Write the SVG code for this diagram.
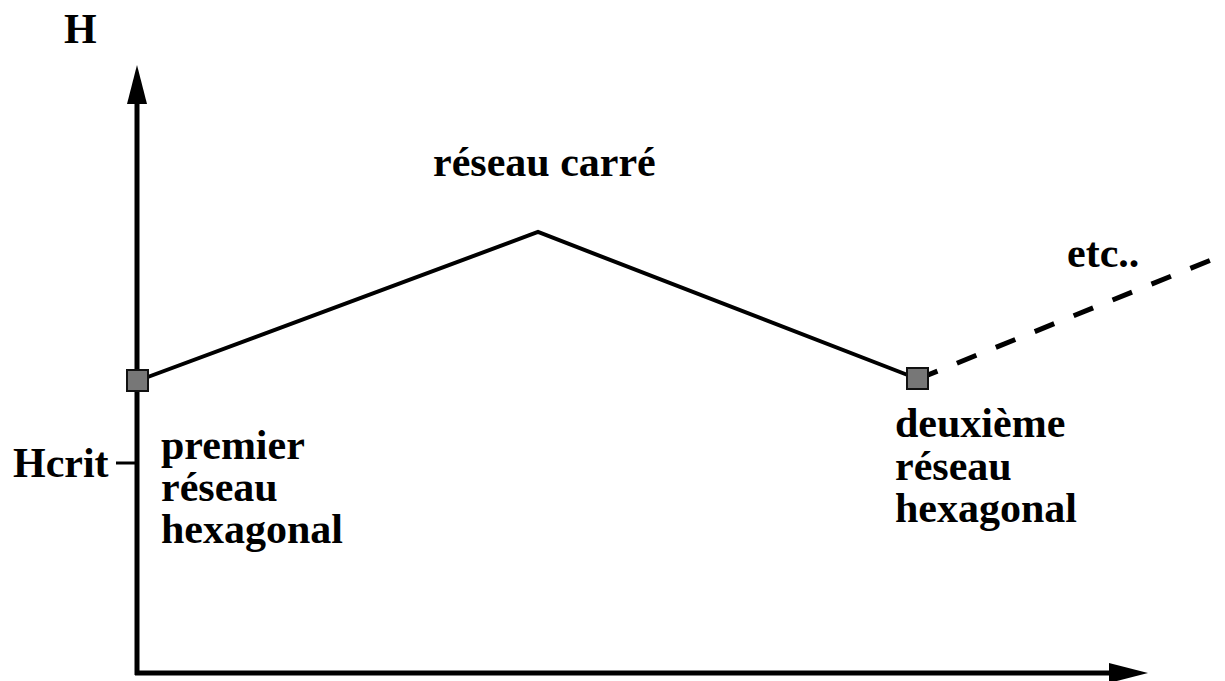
<svg xmlns="http://www.w3.org/2000/svg" width="1225" height="681" viewBox="0 0 1225 681">
<style>
text{font-family:"Liberation Serif","Times New Roman",serif;font-weight:bold;font-size:42px;fill:#000}
.ax{stroke:#000;stroke-width:5;fill:none}
.curve{stroke:#000;stroke-width:4;fill:none}
.dash{stroke:#000;stroke-width:5;fill:none;stroke-dasharray:21 21}
.pt{fill:#777;stroke:#111;stroke-width:2}
</style>
<defs>
<marker id="arr" markerUnits="userSpaceOnUse" markerWidth="40" markerHeight="20" refX="0" refY="10" orient="auto" viewBox="0 0 40 20">
<path d="M0,0 L39,10 L0,20 Z" fill="#000"/>
</marker>
</defs>
<rect width="1225" height="681" fill="#fff"/>
<g id="axes">
<line class="ax" x1="137" y1="675" x2="137" y2="104" marker-end="url(#arr)"/>
<line class="ax" x1="135" y1="673" x2="1109" y2="673" marker-end="url(#arr)"/>
<line x1="116" y1="463" x2="137" y2="463" stroke="#000" stroke-width="3"/>
</g>
<g id="connectors">
<polyline class="curve" points="137,381 538,232 918,379"/>
<line class="dash" x1="918" y1="379" x2="1211" y2="260"/>
</g>
<g id="node-premier">
<rect class="pt" x="127" y="370" width="21" height="21"/>
</g>
<g id="node-deuxieme">
<rect class="pt" x="907" y="368" width="21" height="21"/>
</g>
<g id="labels">
<text x="64" y="43">H</text>
<text x="13" y="477">Hcrit</text>
<text x="433" y="176">réseau carré</text>
<text x="1067" y="267">etc..</text>
<text x="161" y="459">premier</text>
<text x="161" y="501">réseau</text>
<text x="161" y="543">hexagonal</text>
<text x="895" y="437">deuxième</text>
<text x="895" y="480">réseau</text>
<text x="895" y="522">hexagonal</text>
</g>
</svg>
